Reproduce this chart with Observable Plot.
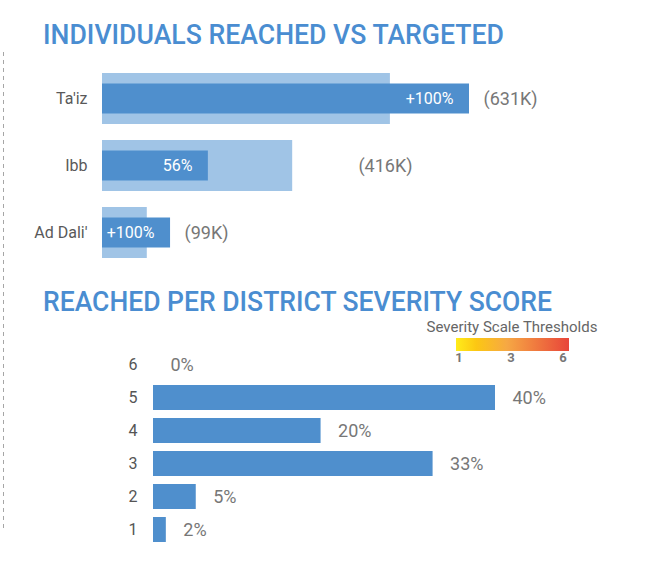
<!DOCTYPE html>
<html>
<head>
<meta charset="utf-8">
<script src="https://cdn.jsdelivr.net/npm/d3@7"></script>
<script src="https://cdn.jsdelivr.net/npm/@observablehq/plot@0.6"></script>
<style>
  body { margin: 0; background: #fff; font-family: Roboto, "Noto Sans", sans-serif; }
  #root { position: relative; width: 657px; height: 563px; overflow: hidden; background: #fff; }
  .title { position: absolute; left: 43px; font-size: 28px; font-weight: 500; color: #4a8dd1;
           line-height: 28px; white-space: nowrap; display: inline-block; transform-origin: 0 0; }
  .chart { position: absolute; left: 0; }
  .chart svg { overflow: visible; }
  #legendTitle { position: absolute; left: 412px; width: 200px; top: 320px; text-align: center;
                 font-size: 15px; line-height: 15px; color: #666; white-space: nowrap; }
  #legendRamp { position: absolute; left: 456px; top: 338px; width: 113px; height: 13px;
                background: linear-gradient(to right, #ffec1a 0%, #fcc713 18%, #f6a844 45%, #f07b3f 70%, #e8453a 100%); }
  .legendTick { position: absolute; top: 351px; font-size: 13px; font-weight: 700; color: #777;
                line-height: 13px; transform: translateX(-50%); }
</style>
</head>
<body>
<div id="root">
  <svg id="dash" width="10" height="563" style="position:absolute;left:0;top:0">
    <line x1="3.5" x2="3.5" y1="52" y2="528" stroke="#a6a6a6" stroke-width="1" stroke-dasharray="4,4"></line>
  </svg>
  <div class="title" id="t1" style="top:21px">INDIVIDUALS REACHED VS TARGETED</div>
  <div class="chart" id="c1" style="top:50px"></div>
  <div class="title" id="t2" style="top:288px">REACHED PER DISTRICT SEVERITY SCORE</div>
  <div id="legendTitle">Severity Scale Thresholds</div>
  <div id="legendRamp"></div>
  <div id="legendTicks"></div>
  <div class="chart" id="c2" style="top:340px"></div>
</div>
<script>
// ---- data ----
const districts = ["Ta'iz", "Ibb", "Ad Dali'"];
const targeted = [495, 327, 77];      // thousands of individuals
const reached = [631, 182, 117];      // thousands of individuals
const valueLabels = [631, 416, 99];   // numbers shown in parentheses (K)

const severityScores = ["6", "5", "4", "3", "2", "1"];
const severityShares = [0, 40, 19.6, 32.7, 5, 1.5]; // percent reached

const thresholdTicks = ["1", "3", "6"];

// ---- fit titles ----
function fitWidth(id, w) {
  const el = document.getElementById(id);
  const r = el.getBoundingClientRect().width;
  el.style.transform = `scaleX(${w / r})`;
}
fitWidth("t1", 461);
fitWidth("t2", 509);

const dark = "#4f8fcd";
const light = "#a0c4e6";

// ---- top chart ----
const topData = districts.map((d, i) => ({district: d, target: targeted[i], reached: reached[i], label: valueLabels[i]}));
const chart1 = Plot.plot({
  width: 657, height: 230,
  marginLeft: 102, marginRight: 188, marginTop: 0, marginBottom: 0,
  x: {domain: [0, 631], axis: null},
  y: {domain: districts, range: [7.4, 224.5], padding: 0.24, axis: null},
  style: {fontFamily: "Roboto", fontSize: "16px", color: "#595959", background: "transparent"},
  marks: [
    Plot.barX(topData, {y: "district", x: "target", fill: light}),
    Plot.barX(topData, {y: "district", x: "reached", fill: dark, insetTop: 10.5, insetBottom: 10.5}),
    Plot.text(topData, {y: "district", x: "reached",
      text: d => d.reached >= d.target ? "+100%" : Math.round(d.reached / d.target * 100) + "%",
      textAnchor: "end", dx: -16, fill: "white", fontSize: 16}),
    Plot.text(topData, {y: "district", x: d => Math.max(d.reached, d.label),
      text: d => `(${d.label}K)`, textAnchor: "start", dx: 14, fill: "#777", fontSize: 18}),
    Plot.axisY({tickSize: 0, tickPadding: 15, fontSize: 16, label: null})
  ]
});
document.getElementById("c1").append(chart1);

// ---- bottom chart ----
const sevData = severityScores.map((s, i) => ({score: s, share: severityShares[i]}));
const chart2 = Plot.plot({
  width: 657, height: 215,
  marginLeft: 153, marginRight: 162, marginTop: 0, marginBottom: 0,
  x: {domain: [0, 40], axis: null},
  y: {domain: severityScores, range: [2.2, 210.6], padding: 0.25, axis: null},
  style: {fontFamily: "Roboto", fontSize: "16px", color: "#555", background: "transparent"},
  marks: [
    Plot.barX(sevData, {y: "score", x: "share", fill: dark}),
    Plot.text(sevData, {y: "score", x: "share", text: d => Math.round(d.share) + "%",
      textAnchor: "start", dx: 17, fill: "#777", fontSize: 18}),
    Plot.axisY({tickSize: 0, tickPadding: 16, fontSize: 16, label: null})
  ]
});
document.getElementById("c2").append(chart2);

// ---- legend ticks ----
const tickBox = document.getElementById("legendTicks");
thresholdTicks.forEach((t, i) => {
  const s = document.createElement("span");
  s.className = "legendTick";
  s.textContent = t;
  s.style.left = (459 + i * 52) + "px";
  tickBox.append(s);
});
</script>
</body>
</html>
